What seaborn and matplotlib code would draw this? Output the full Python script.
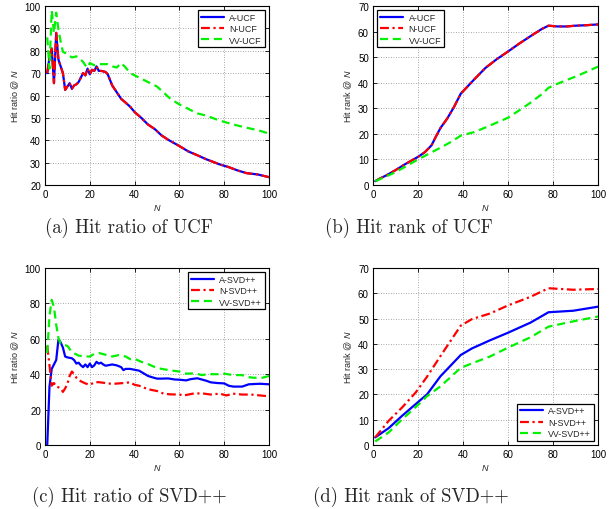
import numpy as np
import pandas as pd
import matplotlib
matplotlib.use("Agg")
import matplotlib.pyplot as plt
import seaborn as sns

# ---------------- data ----------------
# (a) Hit ratio of UCF
N_a = [1, 2, 3, 4, 5, 6, 7, 8, 9, 10, 11, 12, 13, 14, 15, 16, 17, 18, 19, 20,
       21, 22, 23, 24, 25, 26, 27, 28, 30, 32, 34, 36, 38, 40, 43, 46, 49, 52, 55,
       60, 64, 68, 72, 78, 82, 86, 90, 95, 100]
A_UCF_ratio = [70, 77, 81, 65.5, 88, 76, 73, 70, 62.5, 64, 65.5, 63, 64.5, 65, 66, 68,
               70, 69, 72, 69.5, 71.5, 71, 73, 71, 71, 70.8, 70.5, 69.5, 64.5, 61.5,
               58.5, 56.8, 55, 52.6, 50, 47, 45, 42.2, 40.2, 37.4, 35, 33.3, 31.5,
               29.2, 28, 26.5, 25.3, 24.7, 23.5]
N_UCF_ratio = [70, 77, 81, 65.5, 88, 76, 73, 70, 62.5, 64, 65.5, 63, 64.5, 65, 66, 68,
               70, 69, 72, 69.5, 71.5, 71, 73, 71, 71, 70.8, 70.5, 69.5, 64.5, 61.5,
               58.5, 56.8, 55, 52.6, 50, 47, 45, 42.2, 40.2, 37.4, 35, 33.3, 31.5,
               29.2, 28, 26.5, 25.3, 24.7, 23.5]
N_a_vv = [1, 2, 3, 4, 5, 6, 7, 8, 10, 12, 14, 16, 17, 18, 19, 20, 22, 24, 26, 28,
          30, 32, 34, 36, 38, 42, 46, 50, 53, 56, 60, 64, 68, 72, 76, 80, 85, 90, 95, 100]
VV_UCF_ratio = [86, 72, 98, 88, 97, 89.5, 84, 79.5, 78.5, 77, 77.5, 76, 75, 73.5, 72.5,
                74.5, 73.5, 74, 74, 74, 73, 72.5, 74.5, 72.5, 70, 68, 66, 64, 61.3,
                58.5, 56, 54, 52, 51, 49.5, 48.2, 46.8, 45.6, 44.5, 43]

# (b) Hit rank of UCF
N_b = [1, 3, 6, 10, 14, 17, 20, 23, 26, 28, 30, 33, 36, 39, 42, 45, 50, 55, 60, 65,
       70, 75, 78, 82, 86, 90, 95, 100]
A_UCF_rank = [1.5, 2.5, 3.8, 5.8, 8, 9.5, 11, 12.8, 15.5, 19, 22.3, 26, 30.5, 35.7,
              38.5, 41.3, 45.8, 49.2, 52.2, 55.3, 58.2, 61, 62.3, 62, 62, 62.3, 62.5, 62.8]
N_UCF_rank = [1.5, 2.5, 3.8, 5.8, 8, 9.5, 11, 12.8, 15.5, 19, 22.3, 26, 30.5, 35.7,
              38.5, 41.3, 45.8, 49.2, 52.2, 55.3, 58.2, 61, 62.3, 62, 62, 62.3, 62.5, 62.8]
N_b_vv = [1, 5, 10, 15, 20, 25, 30, 35, 39, 45, 50, 55, 60, 65, 70, 75, 78, 82, 86,
          90, 95, 100]
VV_UCF_rank = [1.5, 3, 5, 7.5, 10, 12.3, 14.6, 17, 19.3, 20.7, 22.5, 24.4, 26.3, 29.2,
               32.2, 35.5, 38, 39.6, 41, 42.4, 44.3, 46.3]

# (c) Hit ratio of SVD++
N_c_a = [1, 2, 3, 4, 5, 6, 7, 8, 9, 10, 12, 13, 14, 15, 16, 17, 18, 19, 20, 21, 22,
         23, 24, 25, 26, 27, 28, 30, 32, 34, 35, 36, 38, 40, 42, 44, 46, 48, 50, 52,
         55, 58, 60, 63, 65, 68, 72, 74, 77, 80, 82, 84, 88, 91, 96, 100]
A_SVD_ratio = [0, 33, 43, 45.5, 48, 59.5, 58, 55, 50, 49.5, 49, 48, 46, 46.5, 45, 44,
               45.5, 44, 46, 44, 45, 47, 46, 46.5, 45.5, 44.8, 45, 45.5, 45, 44, 42.3,
               43, 43, 42.5, 42, 40.5, 39, 38.2, 37.5, 37.5, 37.6, 37, 36.9, 36.5,
               37.2, 37.7, 36.3, 35.4, 35, 34.8, 33.5, 33, 33, 34.3, 34.6, 34.3]
N_c_n = [1, 2, 3, 4, 5, 6, 7, 8, 9, 10, 11, 12, 13, 14, 16, 18, 20, 22, 24, 27, 30,
         35, 38, 40, 42, 46, 50, 53, 56, 60, 62, 66, 70, 74, 78, 81, 84, 88, 92, 96, 100]
N_SVD_ratio = [56, 45, 33.5, 35, 33, 32.6, 32, 30, 32, 34.5, 39, 41.5, 40, 38, 36,
               34.8, 34, 35.4, 35.5, 35, 34.5, 35, 35.4, 34, 33.5, 31.5, 30.5, 29,
               28.6, 28.5, 28, 29, 29.2, 28.5, 29, 28, 29, 28.5, 28.5, 28, 27.5]
N_c_vv = [1, 2, 3, 4, 5, 6, 7, 8, 10, 12, 15, 18, 20, 22, 24, 27, 30, 33, 36, 38, 40,
          43, 46, 50, 53, 57, 60, 63, 67, 70, 73, 77, 80, 84, 88, 90, 93, 97, 100]
VV_SVD_ratio = [52, 73, 82, 78, 68, 60.5, 57, 56.8, 56, 52.5, 50.5, 50, 50, 51.5, 52,
                51, 50, 50.8, 50, 48.5, 48.7, 47, 45.7, 43.5, 42.8, 42, 41.5, 40.3,
                40.5, 39.5, 40, 40, 40.3, 39.5, 39.5, 38.5, 38, 38, 39]

# (d) Hit rank of SVD++
N_d = [1, 7, 13, 19, 24, 30, 39, 44, 52, 60, 70, 78, 89, 100]
A_SVD_rank = [3, 6.7, 11.6, 16.2, 20, 27.2, 35.6, 38.2, 41.4, 44.4, 48.4, 52.5, 53.1, 54.7]
N_SVD_rank = [3, 9.6, 14.9, 20.8, 27, 35.2, 47.2, 49.8, 52, 55.2, 58.6, 62, 61.4, 61.7]
VV_SVD_rank = [1.4, 5, 10.2, 15, 19.3, 23.2, 30.5, 32.3, 35, 38.5, 42.6, 46.8, 48.9, 50.8]

# ---------------- style ----------------
sns.set_theme(style="ticks")
plt.rcParams['font.family'] = ['Liberation Sans', 'DejaVu Sans']
plt.rcParams['mathtext.fontset'] = 'custom'
plt.rcParams['mathtext.rm'] = 'Liberation Sans'
plt.rcParams['mathtext.it'] = 'Liberation Sans:italic'
plt.rcParams.update({
    'xtick.direction': 'in', 'ytick.direction': 'in',
    'xtick.top': True, 'ytick.right': True,
    'xtick.major.size': 3, 'ytick.major.size': 3,
    'xtick.major.width': 0.6, 'ytick.major.width': 0.6,
    'xtick.major.pad': 3, 'ytick.major.pad': 3,
    'axes.edgecolor': 'black', 'axes.linewidth': 0.8,
    'xtick.color': 'black', 'ytick.color': 'black',
})

BLUE, RED, GREEN = (0, 0, 1), (1, 0, 0), (0, 0.95, 0)
LS_SOLID = '-'
LS_DASHDOT = (0, (4, 1.6, 1, 1.6))
LS_DASH = (0, (3.6, 2.2))

fig = plt.figure(figsize=(6.11, 5.10), dpi=100)
W, H = 611, 510


def make_ax(l, t, r, b):
    return fig.add_axes([l / W, 1 - b / H, (r - l) / W, (b - t) / H])


ax_a = make_ax(45, 7, 269, 186)
ax_b = make_ax(373, 7, 598, 186)
ax_c = make_ax(45, 269, 269, 446)
ax_d = make_ax(373, 269, 598, 446)


def draw(ax, series, ylim, yticks, ylabel, legloc):
    for x, y, c, ls, lab in series:
        sns.lineplot(x=x, y=y, ax=ax, color=c, linestyle=ls, linewidth=1.6,
                     label=lab, estimator=None, sort=False)
    ax.set_xlim(0, 100)
    ax.set_ylim(*ylim)
    ax.set_xticks(range(0, 101, 20))
    ax.set_yticks(yticks)
    ax.tick_params(labelsize=7)
    ax.grid(True, linestyle=(0, (1, 2)), color='0.55', linewidth=0.6)
    ax.set_xlabel('$N$', fontsize=6.5, labelpad=2)
    ax.set_ylabel(ylabel, fontsize=6.5, labelpad=3)
    for s in ax.spines.values():
        s.set_visible(True)
        s.set_color('black')
    leg = ax.legend(loc=legloc, fontsize=6.4, frameon=True, fancybox=False,
                    framealpha=1, edgecolor='black', handlelength=2.6,
                    borderaxespad=0.5, labelspacing=0.25, borderpad=0.3,
                    handletextpad=0.6)
    leg.get_frame().set_linewidth(0.9)


draw(ax_a, [(N_a, A_UCF_ratio, BLUE, LS_SOLID, 'A-UCF'),
            (N_a, N_UCF_ratio, RED, LS_DASHDOT, 'N-UCF'),
            (N_a_vv, VV_UCF_ratio, GREEN, LS_DASH, 'VV-UCF')],
     (20, 100), range(20, 101, 10), 'Hit ratio @ $N$', 'upper right')
draw(ax_b, [(N_b, A_UCF_rank, BLUE, LS_SOLID, 'A-UCF'),
            (N_b, N_UCF_rank, RED, LS_DASHDOT, 'N-UCF'),
            (N_b_vv, VV_UCF_rank, GREEN, LS_DASH, 'VV-UCF')],
     (0, 70), range(0, 71, 10), 'Hit rank @ $N$', 'upper left')
draw(ax_c, [(N_c_a, A_SVD_ratio, BLUE, LS_SOLID, 'A-SVD++'),
            (N_c_n, N_SVD_ratio, RED, LS_DASHDOT, 'N-SVD++'),
            (N_c_vv, VV_SVD_ratio, GREEN, LS_DASH, 'VV-SVD++')],
     (0, 100), range(0, 101, 20), 'Hit ratio @ $N$', 'upper right')
draw(ax_d, [(N_d, A_SVD_rank, BLUE, LS_SOLID, 'A-SVD++'),
            (N_d, N_SVD_rank, RED, LS_DASHDOT, 'N-SVD++'),
            (N_d, VV_SVD_rank, GREEN, LS_DASH, 'VV-SVD++')],
     (0, 70), range(0, 71, 10), 'Hit rank @ $N$', 'lower right')

cap_kw = dict(fontsize=13.5, family='cmr10', ha='center', va='center')
fig.text(129 / W, 1 - 228 / H, '(a) Hit ratio of UCF', **cap_kw)
fig.text(409 / W, 1 - 228 / H, '(b) Hit rank of UCF', **cap_kw)
fig.text(129 / W, 1 - 497 / H, '(c) Hit ratio of SVD++', **cap_kw)
fig.text(411 / W, 1 - 497 / H, '(d) Hit rank of SVD++', **cap_kw)

fig.savefig('out.png', dpi=100)
